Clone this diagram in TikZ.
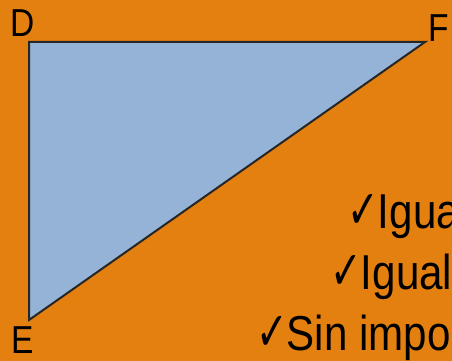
\documentclass[tikz,border=0pt]{standalone}
\usepackage{fontspec}
\setmainfont{Liberation Sans}
\newfontfamily\narrowfont[FakeStretch=0.86]{Liberation Sans}
\newfontfamily\symfont[FakeStretch=0.7]{DejaVu Sans}
\definecolor{bgorange}{HTML}{E3800F}
\definecolor{triblue}{HTML}{95B3D7}
\newcommand{\chk}{{\symfont\fontsize{54}{54}\selectfont ✓}}
\begin{document}
\begin{tikzpicture}[x=1pt,y=1pt,
  vlabel/.style={inner sep=0pt,anchor=base west,font=\narrowfont\fontsize{39}{39}\selectfont},
  item/.style={inner sep=0pt,anchor=base west,font=\narrowfont\fontsize{49}{49}\selectfont}]
\useasboundingbox (0,0) rectangle (452,361);
\clip (0,0) rectangle (452,361);
\fill[bgorange] (0,0) rectangle (452,361);
\coordinate (D) at (29,319);
\coordinate (F) at (425,319);
\coordinate (E) at (29,41);
\draw[fill=triblue,draw=black!85,line width=2pt,line join=miter] (D) -- (F) -- (E) -- cycle;
\node[vlabel] (dl) at (10,324) {D};
\node[vlabel] (fl) at (428,319) {F};
\node[vlabel] (el) at (11,7) {E};
\node[item] (t1) at (347,132) {\chk\kern-1pt Igua};
\node[item] (t2) at (330,71) {\chk\kern-1pt Igual};
\node[item] (t3) at (256,10) {\chk\kern-1pt Sin impo};
\end{tikzpicture}
\end{document}
